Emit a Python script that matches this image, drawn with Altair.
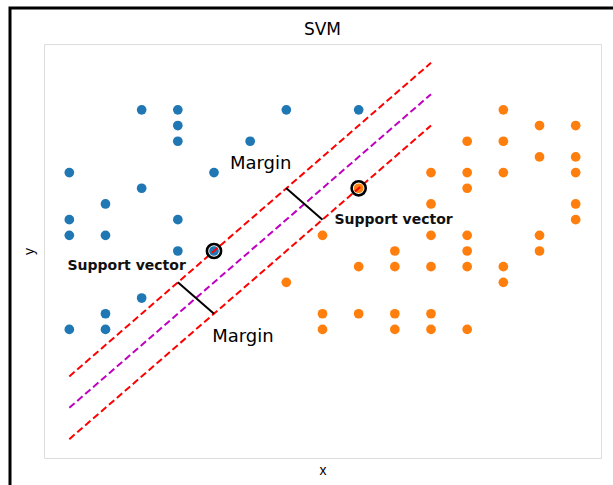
import altair as alt
import pandas as pd

# Class A (blue) and class B (orange) sample points on an integer grid
blue_x = [2, 3, 6, 8, 3, 3, 5, 0, 4, 2, 1, 0, 3, 0, 1, 3, 4, 2, 1, 0, 1]
blue_y = [14, 14, 14, 14, 13, 12, 12, 10, 10, 9, 8, 7, 7, 6, 6, 5, 5, 2, 1, 0, 0]

orange_x = [12, 13, 14, 11, 12, 13, 14, 10, 11, 12, 14, 8, 11, 10, 14, 14,
            7, 10, 11, 13, 9, 11, 13, 8, 9, 10, 11, 12, 6, 12,
            7, 8, 9, 10, 7, 9, 10, 11]
orange_y = [14, 13, 13, 12, 12, 11, 11, 10, 10, 10, 10, 9, 9, 8, 8, 7,
            6, 6, 6, 6, 5, 5, 5, 4, 4, 4, 4, 4, 3, 3,
            1, 1, 1, 1, 0, 0, 0, 0]

# Decision boundary (slope 2) and the two margin lines
line_names = ["margin_upper", "boundary", "margin_lower"]
line_x0 = [0, 0, 0]
line_x1 = [10, 10, 10]
line_y0 = [-3, -5, -7]
line_y1 = [17, 15, 13]
line_colors = ["#ff0000", "#bf00bf", "#ff0000"]

# Support vectors
sv_x = [4, 8]
sv_y = [5, 9]

# Margin width markers (segments across the margin)
seg_x0 = [6, 3]
seg_y0 = [9, 3]
seg_x1 = [7, 4]
seg_y1 = [7, 1]

# Annotations
ann_text = ["Margin", "Margin", "Support vector", "Support vector"]
ann_x = [4.44, 3.95, -0.05, 7.33]
ann_y = [10.25, -0.8, 3.8, 6.74]
ann_bold = [False, False, True, True]

TITLE = "SVM"
X_DOMAIN = [-0.7, 14.7]
Y_DOMAIN = [-8.2, 18.2]
W, H = 557, 414

points = pd.DataFrame({
    "x": blue_x + orange_x,
    "y": blue_y + orange_y,
    "cls": ["A"] * len(blue_x) + ["B"] * len(orange_x),
})
lines = pd.DataFrame({
    "name": line_names, "x": line_x0, "y": line_y0,
    "x2": line_x1, "y2": line_y1, "color": line_colors,
})
svs = pd.DataFrame({"x": sv_x, "y": sv_y})
segs = pd.DataFrame({"x": seg_x0, "y": seg_y0, "x2": seg_x1, "y2": seg_y1})
anns = pd.DataFrame({"text": ann_text, "x": ann_x, "y": ann_y, "bold": ann_bold})

xs = alt.Scale(domain=X_DOMAIN, nice=False, zero=False)
ys = alt.Scale(domain=Y_DOMAIN, nice=False, zero=False)

x_axis = alt.Axis(labels=False, ticks=False, domain=False, grid=False,
                  title="x", titleFontSize=14, titleFontWeight="normal",
                  titlePadding=5, titleColor="#000")
y_axis = alt.Axis(labels=False, ticks=False, domain=False, grid=False,
                  title="y", titleFontSize=14, titleFontWeight="normal",
                  titlePadding=8, titleColor="#000")

scatter = alt.Chart(points).mark_circle(size=94, opacity=1).encode(
    x=alt.X("x:Q", scale=xs, axis=x_axis),
    y=alt.Y("y:Q", scale=ys, axis=y_axis),
    color=alt.Color("cls:N", scale=alt.Scale(domain=["A", "B"],
                                              range=["#1f77b4", "#ff7f0e"]),
                    legend=None),
)

boundary = alt.Chart(lines).mark_rule(strokeWidth=2, strokeDash=[7, 3.5]).encode(
    x="x:Q", y="y:Q", x2="x2:Q", y2="y2:Q",
    color=alt.Color("color:N", scale=None),
)

rings = alt.Chart(svs).mark_point(
    shape="circle", size=200, filled=False, stroke="#000", strokeWidth=2.6, opacity=1
).encode(x="x:Q", y="y:Q")

margin_segs = alt.Chart(segs).mark_rule(color="#000", strokeWidth=2).encode(
    x="x:Q", y="y:Q", x2="x2:Q", y2="y2:Q",
)

labels_plain = alt.Chart(anns[~anns["bold"]]).mark_text(
    align="left", baseline="alphabetic", fontSize=18, font="DejaVu Sans", color="#000"
).encode(x="x:Q", y="y:Q", text="text:N")

labels_bold = alt.Chart(anns[anns["bold"]]).mark_text(
    align="left", baseline="alphabetic", fontSize=14, fontWeight="bold",
    font="DejaVu Sans", color="#111"
).encode(x="x:Q", y="y:Q", text="text:N")

# Chart title, centred over the plot area
title = alt.Chart(pd.DataFrame({"t": [TITLE]})).mark_text(
    align="center", baseline="alphabetic", fontSize=17, font="DejaVu Sans",
    color="#000", clip=False
).encode(x=alt.value(W / 2), y=alt.value(-9), text="t:N")

# Figure frame around the whole chart
frame = alt.Chart(pd.DataFrame({"k": [0]})).mark_rect(
    fill=None, stroke="#000", strokeWidth=3, clip=False
).encode(
    x=alt.value(-34), x2=alt.value(700),
    y=alt.value(-36), y2=alt.value(600),
)

chart = alt.layer(
    frame, title, scatter, boundary, margin_segs, rings, labels_plain, labels_bold
).properties(
    width=W, height=H,
    autosize=alt.AutoSizeParams(type="none"),
    padding={"left": 44, "top": 44, "right": 12, "bottom": 27},
).configure_view(
    stroke="#000", strokeWidth=1.5
).configure_axis(
    titleFont="DejaVu Sans"
).configure(background="white")

chart.save("out.html", embed_options={"renderer": "svg", "actions": False})
